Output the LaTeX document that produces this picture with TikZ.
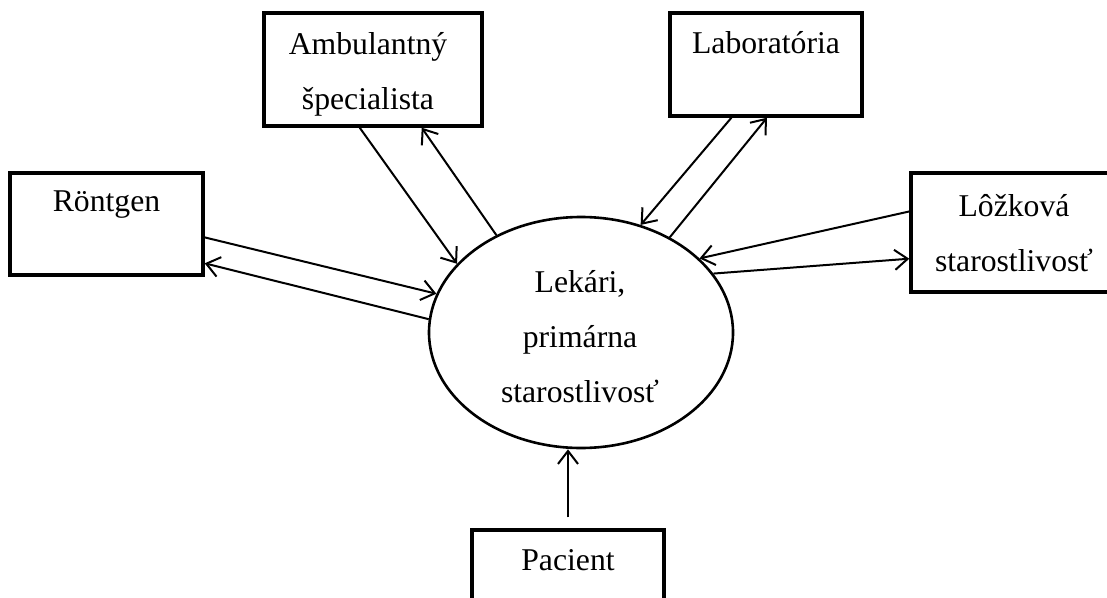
\documentclass[tikz,border=0pt]{standalone}
\usepackage{fontspec}
\setmainfont{Liberation Serif}
\usetikzlibrary{shapes.geometric,arrows.meta,calc}
\begin{document}
\begin{tikzpicture}[x=1pt,y=-1pt,
  box/.style={draw, line width=3.4pt, rectangle, inner sep=0pt},
  txt/.style={font=\fontsize{31.7}{55}\selectfont, align=center, inner sep=0pt},
  arr/.style={line width=2pt, -{Straight Barb[length=13pt,width=20pt,line width=2pt]}}]
\useasboundingbox (0,0) rectangle (1107,597);

\node[box, minimum width=218pt, minimum height=113pt,
  label={[txt, xshift=-5pt, yshift=-5pt]center:{Ambulantný\\špecialista}}] (amb) at (373,69.5) {};
\node[box, minimum width=193pt, minimum height=102pt,
  label={[txt, yshift=19pt]center:Röntgen}] (ront) at (106.5,224) {};
\node[box, minimum width=192pt, minimum height=103pt,
  label={[txt, yshift=21.5pt]center:Laboratória}] (lab) at (766,64.5) {};
\node[box, minimum width=209pt, minimum height=119pt,
  label={[txt, xshift=-1.5pt, yshift=-1pt]center:{Lôžková\\starostlivosť}}] (loz) at (1015.5,232.5) {};
\node[box, minimum width=192pt, minimum height=100pt,
  label={[txt, yshift=20pt]center:Pacient}] (pac) at (568,580) {};
\node[draw, ellipse, line width=2.6pt, inner sep=0pt, minimum width=304pt, minimum height=231pt,
  label={[txt, xshift=-1pt, yshift=-4.5pt]center:{Lekári,\\primárna\\starostlivosť}}] (ell) at (581,332.5) {};

% Ambulantny specialista
\draw[arr] ($(amb.south west)!0.44!(amb.south east)$) -- (ell.151);
\draw[arr] (ell.131) -- ($(amb.south west)!0.72!(amb.south east)$);
% Rontgen
\draw[arr] ($(ront.north east)!0.627!(ront.south east)$) -- (ell.165);
\draw[arr] (ell.175) -- ($(ront.north east)!0.873!(ront.south east)$);
% Laboratoria
\draw[arr] ($(lab.south west)!0.323!(lab.south east)$) -- (ell.61);
\draw[arr] (ell.47) -- ($(lab.south west)!0.505!(lab.south east)$);
% Lozkova starostlivost
\draw[arr] ($(loz.north west)!0.328!(loz.south west)$) -- (ell.32);
\draw[arr] (ell.24) -- ($(loz.north west)!0.714!(loz.south west)$);
% Pacient
\draw[arr] ([yshift=11pt]pac.north) -- (pac.north |- ell.south);
\end{tikzpicture}
\end{document}
